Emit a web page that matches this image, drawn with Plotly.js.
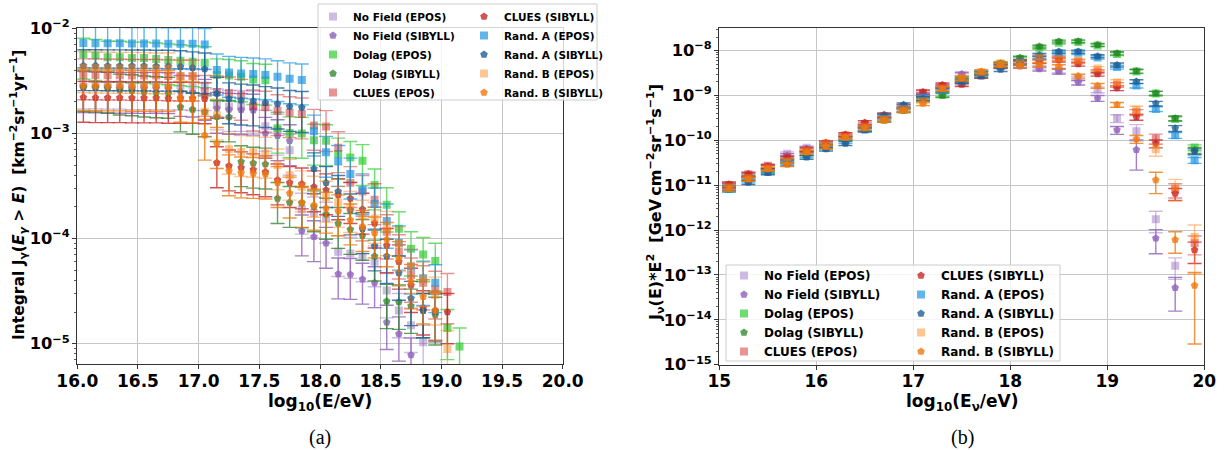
<!DOCTYPE html>
<html><head><meta charset="utf-8">
<script src="https://cdn.plot.ly/plotly-3.0.1.min.js"></script>
<style>html,body{margin:0;padding:0;background:#fff}#chart{width:1230px;height:450px}</style>
</head><body><div id="chart"></div>
<script>
// ---------- series names ----------
const seriesNames = ['No Field (EPOS)','No Field (SIBYLL)','Dolag (EPOS)','Dolag (SIBYLL)','CLUES (EPOS)','CLUES (SIBYLL)','Rand. A (EPOS)','Rand. A (SIBYLL)','Rand. B (EPOS)','Rand. B (SIBYLL)'];

// ---------- panel (a): integral photon flux ----------
const xA = [16.05,16.15,16.25,16.35,16.45,16.55,16.65,16.75,16.85,16.95,17.05,17.15,17.25,17.35,17.45,17.55,17.65,17.75,17.85,17.95,18.05,18.15,18.25,18.35,18.45,18.55,18.65,18.75,18.85,18.95,19.05,19.15,19.25];
const noFieldEposA = [2.95e-3,2.95e-3,2.93e-3,2.93e-3,2.9e-3,2.9e-3,2.9e-3,2.88e-3,2.88e-3,2.85e-3,2.85e-3,1.86e-3,1.8e-3,1.8e-3,1.78e-3,1.17e-3,1.07e-3,6.9e-4,1.9e-4,1.75e-4,1.56e-4,7.5e-5,7.2e-5,6.7e-5,6.0e-5,3.2e-5,2.07e-5,1.5e-5,1.03e-5,null,null,null,null];
const noFieldSibA = [2.72e-3,2.7e-3,2.7e-3,2.68e-3,2.68e-3,2.67e-3,2.68e-3,2.66e-3,2.5e-3,2.47e-3,2.3e-3,1.73e-3,1.69e-3,1.68e-3,1.66e-3,1.0e-3,9.5e-4,8.5e-4,1.18e-4,1.04e-4,9.0e-5,4.6e-5,4.55e-5,4.1e-5,3.8e-5,1.6e-5,1.24e-5,7.8e-6,null,null,null,null,null];
const dolagEposA = [5.65e-3,5.5e-3,5.3e-3,5.3e-3,5.2e-3,5.2e-3,5.1e-3,5.0e-3,4.9e-3,4.8e-3,4.7e-3,3.6e-3,3.55e-3,3.45e-3,3.25e-3,3.2e-3,1.12e-3,1.01e-3,1.0e-3,8.6e-4,8.5e-4,6.35e-4,5.9e-4,5.5e-4,3.23e-4,2.1e-4,1.24e-4,8.0e-5,7.05e-5,6.1e-5,1.41e-5,9.4e-6,null];
const dolagSibA = [2.78e-3,2.75e-3,2.68e-3,2.58e-3,2.54e-3,2.47e-3,2.43e-3,2.4e-3,1.78e-3,1.69e-3,1.6e-3,1.44e-3,1.43e-3,5.37e-4,5.2e-4,5.1e-4,2.4e-4,2.2e-4,2.18e-4,2.0e-4,1.7e-4,1.39e-4,1.22e-4,1.07e-4,6.8e-5,2.53e-5,2.49e-5,2.28e-5,2.07e-5,1.87e-5,null,null,null];
const cluesEposA = [3.6e-3,3.6e-3,3.58e-3,3.58e-3,3.55e-3,3.55e-3,3.55e-3,3.52e-3,3.5e-3,3.5e-3,2.5e-3,2.47e-3,2.42e-3,2.3e-3,1.82e-3,1.77e-3,1.64e-3,1.57e-3,1.53e-3,1.19e-3,1.16e-3,7.3e-4,3.4e-4,2.8e-4,2.34e-4,1.16e-4,7.5e-5,4.5e-5,3.8e-5,3.3e-5,3.1e-5,null,null];
const cluesSibA = [2.2e-3,2.18e-3,2.18e-3,2.18e-3,2.17e-3,2.17e-3,2.17e-3,2.15e-3,2.15e-3,2.15e-3,2.13e-3,5.25e-4,4.9e-4,4.7e-4,4.5e-4,4.3e-4,3.6e-4,3.4e-4,3.3e-4,3.1e-4,2.9e-4,2.6e-4,2.4e-4,1.9e-4,1.4e-4,8.6e-5,6.0e-5,3.6e-5,2.2e-5,2.07e-5,2.0e-5,null,null];
const randAEposA = [7.25e-3,7.2e-3,7.2e-3,7.2e-3,7.15e-3,7.15e-3,7.15e-3,7.1e-3,7.1e-3,7.1e-3,7.0e-3,4.0e-3,3.8e-3,3.72e-3,3.67e-3,3.6e-3,3.46e-3,3.3e-3,3.22e-3,1.05e-3,6.6e-4,5.4e-4,4.1e-4,2.9e-4,2.13e-4,1.47e-4,9.1e-5,5.4e-5,4.2e-5,3.8e-5,null,null,null];
const randASibA = [4.4e-3,4.4e-3,4.38e-3,4.38e-3,4.37e-3,4.37e-3,4.35e-3,4.35e-3,4.3e-3,4.2e-3,4.1e-3,2.4e-3,2.13e-3,2.07e-3,2.03e-3,1.96e-3,1.9e-3,1.8e-3,1.76e-3,4.6e-4,3.4e-4,2.8e-4,1.87e-4,1.24e-4,8.5e-5,6.8e-5,4.7e-5,2.7e-5,2.07e-5,2.0e-5,null,null,null];
const randBEposA = [4.2e-3,4.18e-3,4.16e-3,4.15e-3,4.15e-3,4.13e-3,4.1e-3,4.1e-3,3.5e-3,3.5e-3,1.61e-3,1.49e-3,7.05e-4,6.7e-4,6.6e-4,6.45e-4,5.0e-4,4.0e-4,3.1e-4,2.75e-4,2.47e-4,2.2e-4,1.97e-4,1.63e-4,1.55e-4,1.25e-4,8.9e-5,5.5e-5,4.1e-5,2.9e-5,8.9e-6,null,null];
const randBSibA = [2.85e-3,2.83e-3,2.82e-3,2.82e-3,2.8e-3,2.8e-3,2.8e-3,2.78e-3,2.2e-3,2.17e-3,9.6e-4,8.0e-4,4.4e-4,4.2e-4,4.15e-4,4.1e-4,3.4e-4,2.7e-4,2.2e-4,2.07e-4,1.94e-4,1.83e-4,1.5e-4,1.3e-4,1.13e-4,9.8e-5,6.45e-5,3.9e-5,2.8e-5,2.07e-5,null,null,null];
// relative (1 sigma) error per energy bin, panel (a)
const relErrA = [0.42,0.42,0.42,0.42,0.42,0.42,0.42,0.42,0.42,0.42,0.42,0.42,0.42,0.42,0.42,0.42,0.42,0.42,0.42,0.42,0.42,0.42,0.42,0.42,0.42,0.45,0.45,0.45,0.45,0.48,0.5,0.5,0.5];

// ---------- panel (b): neutrino flux x E^2 ----------
const xB = [15.1,15.3,15.5,15.7,15.9,16.1,16.3,16.5,16.7,16.9,17.1,17.3,17.5,17.7,17.9,18.1,18.3,18.5,18.7,18.9,19.1,19.3,19.5,19.7,19.9];
const noFieldEposB = [9.8e-12,1.6e-11,2.6e-11,5.0e-11,6.8e-11,8.0e-11,1.25e-10,2.1e-10,3.2e-10,5.0e-10,9.5e-10,1.5e-9,2.8e-9,3.2e-9,5.0e-9,4.8e-9,4.3e-9,3.6e-9,2.4e-9,1.35e-9,3.1e-10,1.6e-10,1.75e-12,1.6e-13,null];
const noFieldSibB = [9.5e-12,1.65e-11,2.5e-11,4.6e-11,6.5e-11,7.8e-11,1.2e-10,2.0e-10,3.0e-10,4.8e-10,1.05e-9,1.55e-9,3.0e-9,3.1e-9,4.8e-9,4.5e-9,3.9e-9,3.4e-9,1.95e-9,8.7e-10,1.7e-10,6.2e-11,6.6e-13,5.2e-14,null];
const dolagEposB = [8.5e-12,1.5e-11,2.2e-11,3.5e-11,5.2e-11,7.5e-11,1.12e-10,1.85e-10,2.9e-10,4.8e-10,8.5e-10,1.05e-9,2.3e-9,3.0e-9,4.9e-9,6.5e-9,1.15e-8,1.5e-8,1.55e-8,1.3e-8,8.4e-9,3.4e-9,1.1e-9,3.0e-10,6.9e-11];
const dolagSibB = [8.0e-12,1.4e-11,2.1e-11,3.4e-11,5.0e-11,7.3e-11,1.1e-10,1.8e-10,2.8e-10,4.6e-10,8.0e-10,1.0e-9,2.2e-9,3.1e-9,5.2e-9,6.9e-9,1.23e-8,1.6e-8,1.62e-8,1.34e-8,8.7e-9,3.5e-9,1.12e-9,3.1e-10,6.0e-11];
const cluesEposB = [1.0e-11,1.75e-11,2.7e-11,4.2e-11,6.0e-11,8.5e-11,1.3e-10,2.3e-10,3.5e-10,5.5e-10,1.15e-9,1.6e-9,1.9e-9,2.8e-9,4.5e-9,5.5e-9,6.7e-9,6.8e-9,5.7e-9,3.4e-9,1.72e-9,4.2e-10,1.1e-10,8.0e-12,5.1e-13];
const cluesSibB = [1.05e-11,1.78e-11,2.6e-11,4.0e-11,6.2e-11,8.8e-11,1.35e-10,2.5e-10,3.7e-10,5.8e-10,1.2e-9,1.72e-9,1.75e-9,2.7e-9,4.4e-9,5.6e-9,5.8e-9,6.2e-9,5.0e-9,3.0e-9,1.46e-9,3.3e-10,8.5e-11,6.5e-12,3.6e-13];
const randAEposB = [8.2e-12,1.25e-11,2.0e-11,3.2e-11,4.6e-11,6.8e-11,9.5e-11,1.75e-10,3.3e-10,5.6e-10,9.0e-10,1.3e-9,2.1e-9,3.1e-9,4.6e-9,5.4e-9,7.3e-9,8.7e-9,8.9e-9,7.0e-9,4.3e-9,1.66e-9,5.0e-10,1.3e-10,3.6e-11];
const randASibB = [8.8e-12,1.15e-11,1.9e-11,3.0e-11,4.2e-11,6.4e-11,8.5e-11,1.7e-10,3.5e-10,6.2e-10,8.5e-10,1.35e-9,2.04e-9,2.7e-9,3.8e-9,5.2e-9,8.0e-9,9.5e-9,9.5e-9,7.5e-9,4.8e-9,2.04e-9,6.6e-10,1.85e-10,5.6e-11];
const randBEposB = [9.0e-12,1.45e-11,2.4e-11,3.4e-11,5.8e-11,8.2e-11,1.2e-10,2.0e-10,3.0e-10,5.0e-10,7.5e-10,1.45e-9,2.5e-9,3.3e-9,5.2e-9,5.2e-9,7.0e-9,6.6e-9,5.9e-9,4.0e-9,1.95e-9,4.8e-10,6.3e-11,9.0e-12,7.0e-13];
const randBSibB = [8.4e-12,1.35e-11,2.3e-11,2.9e-11,5.4e-11,7.2e-11,1.15e-10,1.85e-10,2.8e-10,4.6e-10,6.6e-10,1.4e-9,2.4e-9,3.4e-9,4.8e-9,4.6e-9,4.8e-9,4.4e-9,2.7e-9,1.65e-9,6.2e-10,1.07e-10,1.3e-11,6.1e-13,5.8e-14];
// relative (1 sigma) errors, panel (b)
const relErrNoFieldEposB = [0.12,0.1,0.1,0.1,0.1,0.1,0.1,0.1,0.1,0.1,0.1,0.1,0.1,0.1,0.1,0.1,0.1,0.12,0.12,0.15,0.2,0.4,0.5,0.5,0];
const relErrNoFieldSibB  = [0.12,0.1,0.1,0.1,0.1,0.1,0.1,0.1,0.1,0.1,0.1,0.1,0.1,0.1,0.1,0.1,0.1,0.12,0.12,0.15,0.2,0.65,0.55,0.7,0];
const relErrDolagEposB   = [0.12,0.1,0.1,0.1,0.1,0.1,0.1,0.1,0.1,0.1,0.1,0.1,0.1,0.1,0.08,0.08,0.07,0.07,0.07,0.07,0.08,0.1,0.12,0.12,0.15];
const relErrDolagSibB    = [0.12,0.1,0.1,0.1,0.1,0.1,0.1,0.1,0.1,0.1,0.1,0.1,0.1,0.1,0.08,0.08,0.07,0.07,0.07,0.07,0.08,0.1,0.1,0.12,0.15];
const relErrCluesEposB   = [0.12,0.1,0.1,0.1,0.1,0.1,0.1,0.1,0.1,0.1,0.1,0.1,0.1,0.1,0.1,0.1,0.1,0.1,0.1,0.1,0.12,0.15,0.25,0.35,0.45];
const relErrCluesSibB    = [0.12,0.1,0.1,0.1,0.1,0.1,0.1,0.1,0.1,0.1,0.1,0.1,0.1,0.1,0.1,0.1,0.1,0.1,0.1,0.1,0.12,0.15,0.2,0.3,0.5];
const relErrRandAEposB   = [0.12,0.1,0.1,0.1,0.1,0.1,0.1,0.1,0.1,0.1,0.1,0.1,0.1,0.1,0.1,0.1,0.08,0.08,0.08,0.08,0.1,0.12,0.12,0.15,0.15];
const relErrRandASibB    = [0.12,0.1,0.1,0.1,0.1,0.1,0.1,0.1,0.1,0.1,0.1,0.1,0.1,0.1,0.1,0.1,0.08,0.08,0.08,0.08,0.1,0.1,0.12,0.15,0.15];
const relErrRandBEposB   = [0.12,0.1,0.1,0.1,0.1,0.1,0.1,0.1,0.1,0.1,0.1,0.1,0.1,0.1,0.1,0.1,0.1,0.1,0.1,0.1,0.15,0.2,0.3,0.5,0.85];
const relErrRandBSibB    = [0.12,0.1,0.1,0.1,0.1,0.1,0.1,0.1,0.1,0.1,0.1,0.1,0.1,0.1,0.1,0.1,0.1,0.1,0.1,0.12,0.12,0.2,0.5,0.5,0.95];

// ---------- styles ----------
const colors = ['rgba(148,103,189,0.45)','rgba(148,103,189,0.85)','rgba(50,205,50,0.7)','rgba(40,130,40,0.75)','rgba(214,39,40,0.5)','rgba(200,40,40,0.8)','rgba(31,150,225,0.7)','rgba(31,95,150,0.8)','rgba(255,127,14,0.45)','rgba(240,120,14,0.8)'];
const symbols = ['square','pentagon','square','pentagon','square','pentagon','square','pentagon','square','pentagon'];

const seriesA = [noFieldEposA,noFieldSibA,dolagEposA,dolagSibA,cluesEposA,cluesSibA,randAEposA,randASibA,randBEposA,randBSibA];
const seriesB = [noFieldEposB,noFieldSibB,dolagEposB,dolagSibB,cluesEposB,cluesSibB,randAEposB,randASibB,randBEposB,randBSibB];
const relErrB = [relErrNoFieldEposB,relErrNoFieldSibB,relErrDolagEposB,relErrDolagSibB,relErrCluesEposB,relErrCluesSibB,relErrRandAEposB,relErrRandASibB,relErrRandBEposB,relErrRandBSibB];

const traces = [];
seriesA.forEach((ys, i) => {
  traces.push({
    type:'scatter', mode:'markers', name: seriesNames[i], x: xA, y: ys,
    xaxis:'x', yaxis:'y', legend: i < 5 ? 'legend' : 'legend2',
    marker:{symbol: symbols[i], size: 8, color: colors[i], line:{width:0}},
    error_y:{type:'data', array: ys.map((v, k) => v == null ? null : v * relErrA[k]), color: colors[i], thickness: 1.4, width: 7}
  });
});
seriesB.forEach((ys, i) => {
  traces.push({
    type:'scatter', mode:'markers', name: seriesNames[i], x: xB, y: ys,
    xaxis:'x2', yaxis:'y2', legend: i < 5 ? 'legend3' : 'legend4',
    marker:{symbol: symbols[i], size: 8, color: colors[i], line:{width:0}},
    error_y:{type:'data', array: ys.map((v, k) => v == null ? null : v * relErrB[i][k]), color: colors[i], thickness: 1.4, width: 7}
  });
});

const FONT = 'DejaVu Sans';
const tickFontX = {family: FONT, size: 17, color: '#000', weight: 'bold'};
const tickFontY = {family: FONT, size: 13, color: '#000', weight: 'bold'};
const axBase = {showline:true, linecolor:'#333', linewidth:1, mirror:true, ticks:'outside', ticklen:4, tickwidth:1, tickcolor:'#333',
  showgrid:true, gridcolor:'#c6c6c6', gridwidth:1, zeroline:false, fixedrange:true};
const minorLog = {ticks:'outside', ticklen:2.5, tickwidth:0.8, tickcolor:'#333', dtick:'D1', showgrid:false};

const legBase = (size) => ({bgcolor:'rgba(0,0,0,0)', borderwidth:0, orientation:'v', xanchor:'left', yanchor:'top',
  font:{family: FONT, size: size, color:'#000', weight:'bold'}, itemclick:false, itemdoubleclick:false});

const px = v => v / 1230, py = v => 1 - v / 450;
const ann = (o) => Object.assign({xref:'paper', yref:'paper', showarrow:false, xanchor:'center', yanchor:'middle'}, o);

const layout = {
  width:1230, height:450, margin:{l:0, r:0, t:0, b:0}, paper_bgcolor:'#fff', plot_bgcolor:'#fff',
  font:{family: FONT}, showlegend:true,
  xaxis: Object.assign({}, axBase, {domain:[px(77.3), px(562.7)], range:[16,20], tickmode:'linear', tick0:16, dtick:0.5, tickformat:'.1f', tickfont: tickFontX, ticklabelstandoff:-3, anchor:'y'}),
  yaxis: Object.assign({}, axBase, {domain:[py(364.3), py(27.7)], type:'log', range:[-5.196,-1.995], dtick:1, exponentformat:'power', tickfont: tickFontY, minor: minorLog, anchor:'x'}),
  xaxis2: Object.assign({}, axBase, {domain:[px(719.3), px(1204.3)], range:[15,20], tickmode:'linear', tick0:15, dtick:1, tickfont: tickFontX, ticklabelstandoff:-3, anchor:'y2'}),
  yaxis2: Object.assign({}, axBase, {domain:[py(364.7), py(27.7)], type:'log', range:[-15,-7.49], dtick:1, exponentformat:'power', tickfont: tickFontY, minor: minorLog, anchor:'x2'}),
  legend: Object.assign(legBase(10.5), {x: px(313), y: py(2)}),
  legend2: Object.assign(legBase(10.5), {x: px(464), y: py(2)}),
  legend3: Object.assign(legBase(12), {x: px(724), y: py(261)}),
  legend4: Object.assign(legBase(12), {x: px(901), y: py(261)}),
  shapes: [
    {type:'rect', xref:'paper', yref:'paper', x0: px(318), x1: px(597), y0: py(100), y1: py(4), layer:'above',
     fillcolor:'rgba(255,255,255,0.8)', line:{color:'#cccccc', width:1}},
    {type:'rect', xref:'paper', yref:'paper', x0: px(726), x1: px(1060), y0: py(361), y1: py(265), layer:'above',
     fillcolor:'rgba(255,255,255,0.8)', line:{color:'#cccccc', width:1}}
  ],
  annotations: [
    ann({text:'log<sub>10</sub>(E/eV)', x: px(320), y: py(402), font:{family: FONT, size:17, weight:'bold', color:'#000'}}),
    ann({text:'log<sub>10</sub>(E<sub>ν</sub>/eV)', x: px(962), y: py(402), font:{family: FONT, size:17, weight:'bold', color:'#000'}}),
    ann({text:'Integral J<sub>γ</sub>(<i>E<sub>γ</sub></i> &gt; <i>E</i>)\u00a0\u00a0[km<sup>−2</sup>sr<sup>−1</sup>yr<sup>−1</sup>]',
     x: px(18), y: py(195), textangle:-90, font:{family: FONT, size:15.5, weight:'bold', color:'#000'}}),
    ann({text:'J<sub>ν</sub>(E)*E<sup>2</sup>\u00a0\u00a0[GeV\u2009cm<sup>−2</sup>sr<sup>−1</sup>s<sup>−1</sup>]',
     x: px(655), y: py(203), textangle:-90, font:{family: FONT, size:16, weight:'bold', color:'#000'}}),
    ann({text:'(a)', x: px(320), y: py(437), font:{family:'Liberation Serif', size:20, color:'#000'}}),
    ann({text:'(b)', x: px(962), y: py(437), font:{family:'Liberation Serif', size:20, color:'#000'}})
  ]
};

Plotly.newPlot('chart', traces, layout, {staticPlot:true, displayModeBar:false});
</script>
</body></html>
